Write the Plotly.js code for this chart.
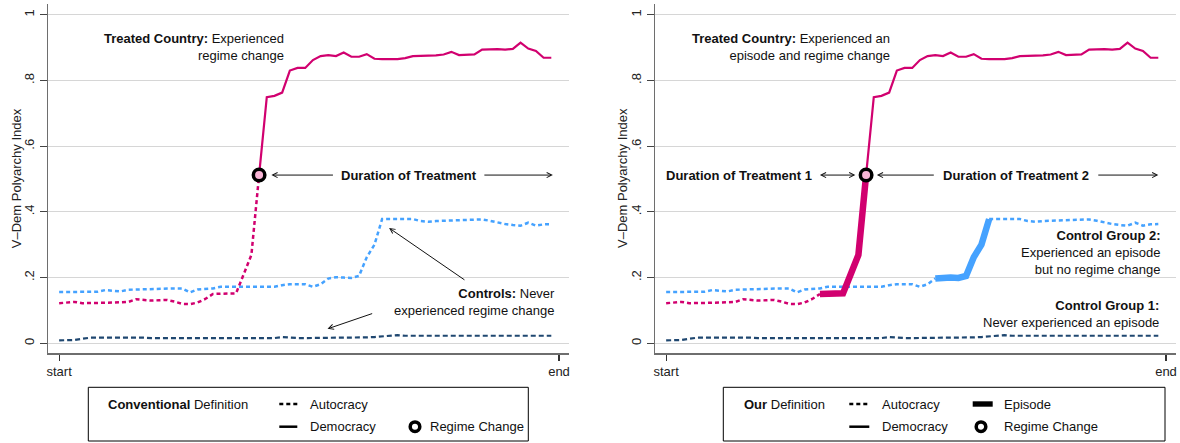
<!DOCTYPE html>
<html>
<head>
<meta charset="utf-8">
<script src="https://cdn.plot.ly/plotly-3.0.1.min.js"></script>
<style>html,body{margin:0;padding:0;background:#fff;}#chart{width:1180px;height:443px;}</style>
</head>
<body>
<div id="chart"></div>
<script>
// ---------------- DATA ----------------
// time index 0..64 (relative periods); axis labels "start" / "end"
const tickLabels = ["start", "end"];
const tickPositions = [0, 65];
const yTickValues = [0, 0.2, 0.4, 0.6, 0.8, 1];
const yTickLabels = ["0", ".2", ".4", ".6", ".8", "1"];
const yTitle = "V–Dem Polyarchy Index";

// Treated country (V-Dem polyarchy), periods 0..64
const treatedPolyarchy = [
  0.122, 0.124, 0.126, 0.122, 0.122, 0.122, 0.123, 0.124, 0.125, 0.126,
  0.134, 0.131, 0.130, 0.131, 0.132, 0.127, 0.120, 0.119, 0.124, 0.135,
  0.150, 0.151, 0.151, 0.152, 0.210, 0.269, 0.512, 0.749, 0.753, 0.763,
  0.830, 0.838, 0.838, 0.862, 0.874, 0.877, 0.874, 0.885, 0.872, 0.872,
  0.880, 0.866, 0.865, 0.865, 0.865, 0.868, 0.874, 0.875, 0.875, 0.876,
  0.879, 0.887, 0.877, 0.878, 0.879, 0.894, 0.895, 0.895, 0.894, 0.896,
  0.915, 0.897, 0.890, 0.869, 0.869
];
// Control that experienced an episode but no regime change (light blue)
const controlEpisode = [
  0.156, 0.156, 0.156, 0.156, 0.156, 0.157, 0.162, 0.159, 0.158, 0.163,
  0.164, 0.164, 0.165, 0.166, 0.167, 0.167, 0.167, 0.155, 0.164, 0.165,
  0.167, 0.172, 0.172, 0.174, 0.174, 0.174, 0.173, 0.172, 0.172, 0.177,
  0.180, 0.180, 0.180, 0.172, 0.180, 0.197, 0.201, 0.200, 0.199, 0.205,
  0.262, 0.300, 0.378, 0.378, 0.378, 0.379, 0.378, 0.372, 0.370, 0.372,
  0.373, 0.374, 0.374, 0.375, 0.376, 0.377, 0.373, 0.367, 0.363, 0.360,
  0.358, 0.367, 0.358, 0.362, 0.363
];
// Control that never experienced an episode (navy)
const controlNever = [
  0.009, 0.009, 0.010, 0.014, 0.017, 0.017, 0.017, 0.017, 0.017, 0.018,
  0.019, 0.017, 0.016, 0.016, 0.016, 0.016, 0.016, 0.016, 0.016, 0.016,
  0.016, 0.016, 0.016, 0.016, 0.016, 0.014, 0.014, 0.014, 0.016, 0.019,
  0.017, 0.016, 0.016, 0.016, 0.016, 0.016, 0.016, 0.016, 0.016, 0.016,
  0.018, 0.019, 0.021, 0.024, 0.025, 0.023, 0.023, 0.023, 0.023, 0.023,
  0.023, 0.023, 0.023, 0.023, 0.023, 0.023, 0.023, 0.023, 0.023, 0.023,
  0.023, 0.023, 0.023, 0.023, 0.023
];
const regimeChangeIndex = 26;
const treatedEpisode = [20, 26];   // start, end period of treated episode
const controlEpisodeSpan = [35, 42];

// ---------------- STYLE ----------------
const W = 1180, H = 443;
const FONT = '"Liberation Sans", Arial, Helvetica, sans-serif';
const C_TREAT = '#d1006f', C_BLUE = '#45a2ff', C_NAVY = '#1f4770';
const DOT = '4px,3px', DASH = '5px,3px';

const periods = treatedPolyarchy.map((_, i) => i);
function seg(arr, a, b) { return { x: periods.slice(a, b + 1), y: arr.slice(a, b + 1) }; }
function line(s, xa, ya, color, width, dash) {
  return { type: 'scatter', mode: 'lines', x: s.x, y: s.y, xaxis: xa, yaxis: ya,
    line: { color: color, width: width, dash: dash || 'solid', shape: 'linear' }, hoverinfo: 'skip' };
}
function circle(xa, ya) {
  return { type: 'scatter', mode: 'markers', x: [periods[regimeChangeIndex]], y: [treatedPolyarchy[regimeChangeIndex]],
    xaxis: xa, yaxis: ya, marker: { size: 11.5, color: '#f9b5d6', line: { color: '#000', width: 3.5 } }, hoverinfo: 'skip' };
}
const last = periods.length - 1;
const traces = [
  // left: conventional definition
  line(seg(controlNever, 0, last), 'x', 'y', C_NAVY, 2.2, DASH),
  line(seg(controlEpisode, 0, last), 'x', 'y', C_BLUE, 2.5, DOT),
  line(seg(treatedPolyarchy, 0, regimeChangeIndex), 'x', 'y', C_TREAT, 2.5, DOT),
  line(seg(treatedPolyarchy, regimeChangeIndex, last), 'x', 'y', C_TREAT, 2.2),
  circle('x', 'y'),
  // right: our definition
  line(seg(controlNever, 0, last), 'x2', 'y2', C_NAVY, 2.2, DASH),
  line(seg(controlEpisode, 0, controlEpisodeSpan[0]), 'x2', 'y2', C_BLUE, 2.5, DOT),
  line(seg(controlEpisode, controlEpisodeSpan[1], last), 'x2', 'y2', C_BLUE, 2.5, DOT),
  line(seg(controlEpisode, controlEpisodeSpan[0], controlEpisodeSpan[1]), 'x2', 'y2', C_BLUE, 6.5),
  line(seg(treatedPolyarchy, 0, treatedEpisode[0]), 'x2', 'y2', C_TREAT, 2.5, DOT),
  line(seg(treatedPolyarchy, regimeChangeIndex, last), 'x2', 'y2', C_TREAT, 2.2),
  line(seg(treatedPolyarchy, treatedEpisode[0], treatedEpisode[1]), 'x2', 'y2', C_TREAT, 6.5),
  circle('x2', 'y2')
];

const px = v => v / W, py = v => 1 - v / H;
const yDom = [py(353), py(4)];
const XR = [-1.45, 66.3], YR = [-0.0295, 1.0326];
function xAx(dom, anchor) {
  return { domain: dom, anchor: anchor, range: XR, showgrid: false, zeroline: false,
    showline: true, linecolor: '#6e6e6e', linewidth: 1.5, ticks: 'outside', ticklen: 6, tickwidth: 1.2,
    tickcolor: '#333', tickvals: tickPositions, ticktext: tickLabels,
    tickfont: { family: FONT, size: 13, color: '#222' }, fixedrange: true };
}
function yAx(anchor) {
  return { domain: yDom, anchor: anchor, range: YR, showgrid: true, gridcolor: '#d6d6d6', gridwidth: 1.2,
    zeroline: false, showline: true, linecolor: '#6e6e6e', linewidth: 1.5, ticks: 'outside', ticklen: 7,
    tickwidth: 1.2, tickcolor: '#444', tickvals: yTickValues, ticktext: yTickLabels, tickangle: -90,
    tickfont: { family: FONT, size: 13, color: '#222' }, fixedrange: true };
}

function txt(xref, yref, x, y, text, xanchor, extra) {
  return Object.assign({ xref: xref, yref: yref, x: x, y: y, text: text, showarrow: false,
    xanchor: xanchor || 'center', yanchor: 'middle', align: xanchor === 'right' ? 'right' : 'left',
    font: { family: FONT, size: 13, color: '#111' } }, extra || {});
}
function arrow(xref, yref, x, y, ax, ay, side) {
  return { xref: xref, yref: yref, axref: xref, ayref: yref, x: x, y: y, ax: ax, ay: ay, text: '',
    showarrow: true, arrowhead: 5, startarrowhead: 5, arrowside: side || 'end', arrowsize: 1,
    arrowwidth: 1, arrowcolor: '#111', standoff: 0, startstandoff: 0 };
}

const annotations = [
  // y-axis titles
  txt('paper', 'paper', px(16.7), py(178.5), yTitle, 'center', { textangle: -90, font: { family: FONT, size: 13, color: '#222' } }),
  txt('paper', 'paper', px(622.5), py(178.5), yTitle, 'center', { textangle: -90, font: { family: FONT, size: 13, color: '#222' } }),
  // left panel
  txt('x', 'y', 29.5, 0.902, '<b>Treated Country:</b> Experienced<br>regime change', 'right'),
  txt('x', 'y', 45.5, 0.512, '<b>Duration of Treatment</b>'),
  arrow('x', 'y', 27.6, 0.512, 35.8, 0.512),
  arrow('x', 'y', 64.2, 0.512, 55.1, 0.512),
  txt('x', 'y', 64.7, 0.126, '<b>Controls:</b> Never<br>experienced regime change', 'right'),
  arrow('x', 'y', 42.9, 0.351, 52.9, 0.190),
  arrow('x', 'y', 34.9, 0.044, 40.9, 0.092),
  // right panel
  txt('x2', 'y2', 29.4, 0.902, '<b>Treated Country:</b> Experienced an<br>episode and regime change', 'right'),
  txt('x2', 'y2', 19.2, 0.512, '<b>Duration of Treatment 1</b>', 'right'),
  arrow('x2', 'y2', 24.6, 0.512, 19.8, 0.512, 'end+start'),
  txt('x2', 'y2', 45.5, 0.512, '<b>Duration of Treatment 2</b>'),
  arrow('x2', 'y2', 27.4, 0.512, 35.0, 0.512),
  arrow('x2', 'y2', 64.0, 0.512, 56.0, 0.512),
  txt('x2', 'y2', 64.6, 0.275, '<b>Control Group 2:</b><br>Experienced an episode<br>but no regime change', 'right'),
  txt('x2', 'y2', 64.4, 0.088, '<b>Control Group 1:</b><br>Never experienced an episode', 'right'),
  // legends
  txt('paper', 'paper', px(106), py(404), '<b>Conventional</b> Definition', 'left'),
  txt('paper', 'paper', px(308), py(404), 'Autocracy', 'left'),
  txt('paper', 'paper', px(308), py(426.7), 'Democracy', 'left'),
  txt('paper', 'paper', px(428), py(426.7), 'Regime Change', 'left'),
  txt('paper', 'paper', px(741.7), py(404), '<b>Our</b> Definition', 'left'),
  txt('paper', 'paper', px(880), py(404), 'Autocracy', 'left'),
  txt('paper', 'paper', px(880), py(426.7), 'Democracy', 'left'),
  txt('paper', 'paper', px(1001.7), py(404), 'Episode', 'left'),
  txt('paper', 'paper', px(1001.7), py(426.7), 'Regime Change', 'left')
];
function pline(x0, x1, y, w, dash) {
  return { type: 'line', xref: 'paper', yref: 'paper', x0: px(x0), x1: px(x1), y0: py(y), y1: py(y),
    line: { color: '#000', width: w, dash: dash || 'solid' } };
}
function pcirc(cx, cy, r) {
  return { type: 'circle', xref: 'paper', yref: 'paper', x0: px(cx - r), x1: px(cx + r), y0: py(cy + r), y1: py(cy - r),
    line: { color: '#000', width: 3.5 }, fillcolor: '#fff' };
}
const shapes = [
  { type: 'rect', xref: 'paper', yref: 'paper', x0: px(88.3), x1: px(528.3), y0: py(441), y1: py(387.3),
    line: { color: '#000', width: 1 }, fillcolor: 'rgba(0,0,0,0)' },
  pline(279.3, 297.3, 404, 2.5, '4px,3px'),
  pline(279.3, 297.3, 426.7, 2.5),
  pcirc(415, 426.7, 4.8),
  { type: 'rect', xref: 'paper', yref: 'paper', x0: px(723.3), x1: px(1165), y0: py(441), y1: py(387.3),
    line: { color: '#000', width: 1 }, fillcolor: 'rgba(0,0,0,0)' },
  pline(849.3, 867.3, 404, 2.5, '4px,3px'),
  pline(849.3, 869.3, 426.7, 2.5),
  { type: 'rect', xref: 'paper', yref: 'paper', x0: px(972.7), x1: px(992.7), y0: py(406.7), y1: py(401.3),
    line: { width: 0 }, fillcolor: '#000' },
  pcirc(981, 426.7, 4.8)
];

const layout = {
  width: W, height: H, margin: { l: 0, r: 0, t: 0, b: 0 },
  paper_bgcolor: '#fff', plot_bgcolor: '#fff', showlegend: false,
  font: { family: FONT, size: 13, color: '#222' },
  xaxis: xAx([px(48), px(569)], 'y'), yaxis: yAx('x'),
  xaxis2: xAx([px(655), px(1176)], 'y2'), yaxis2: yAx('x2'),
  annotations: annotations, shapes: shapes
};
Plotly.newPlot('chart', traces, layout, { staticPlot: true, displayModeBar: false });
</script>
</body>
</html>
